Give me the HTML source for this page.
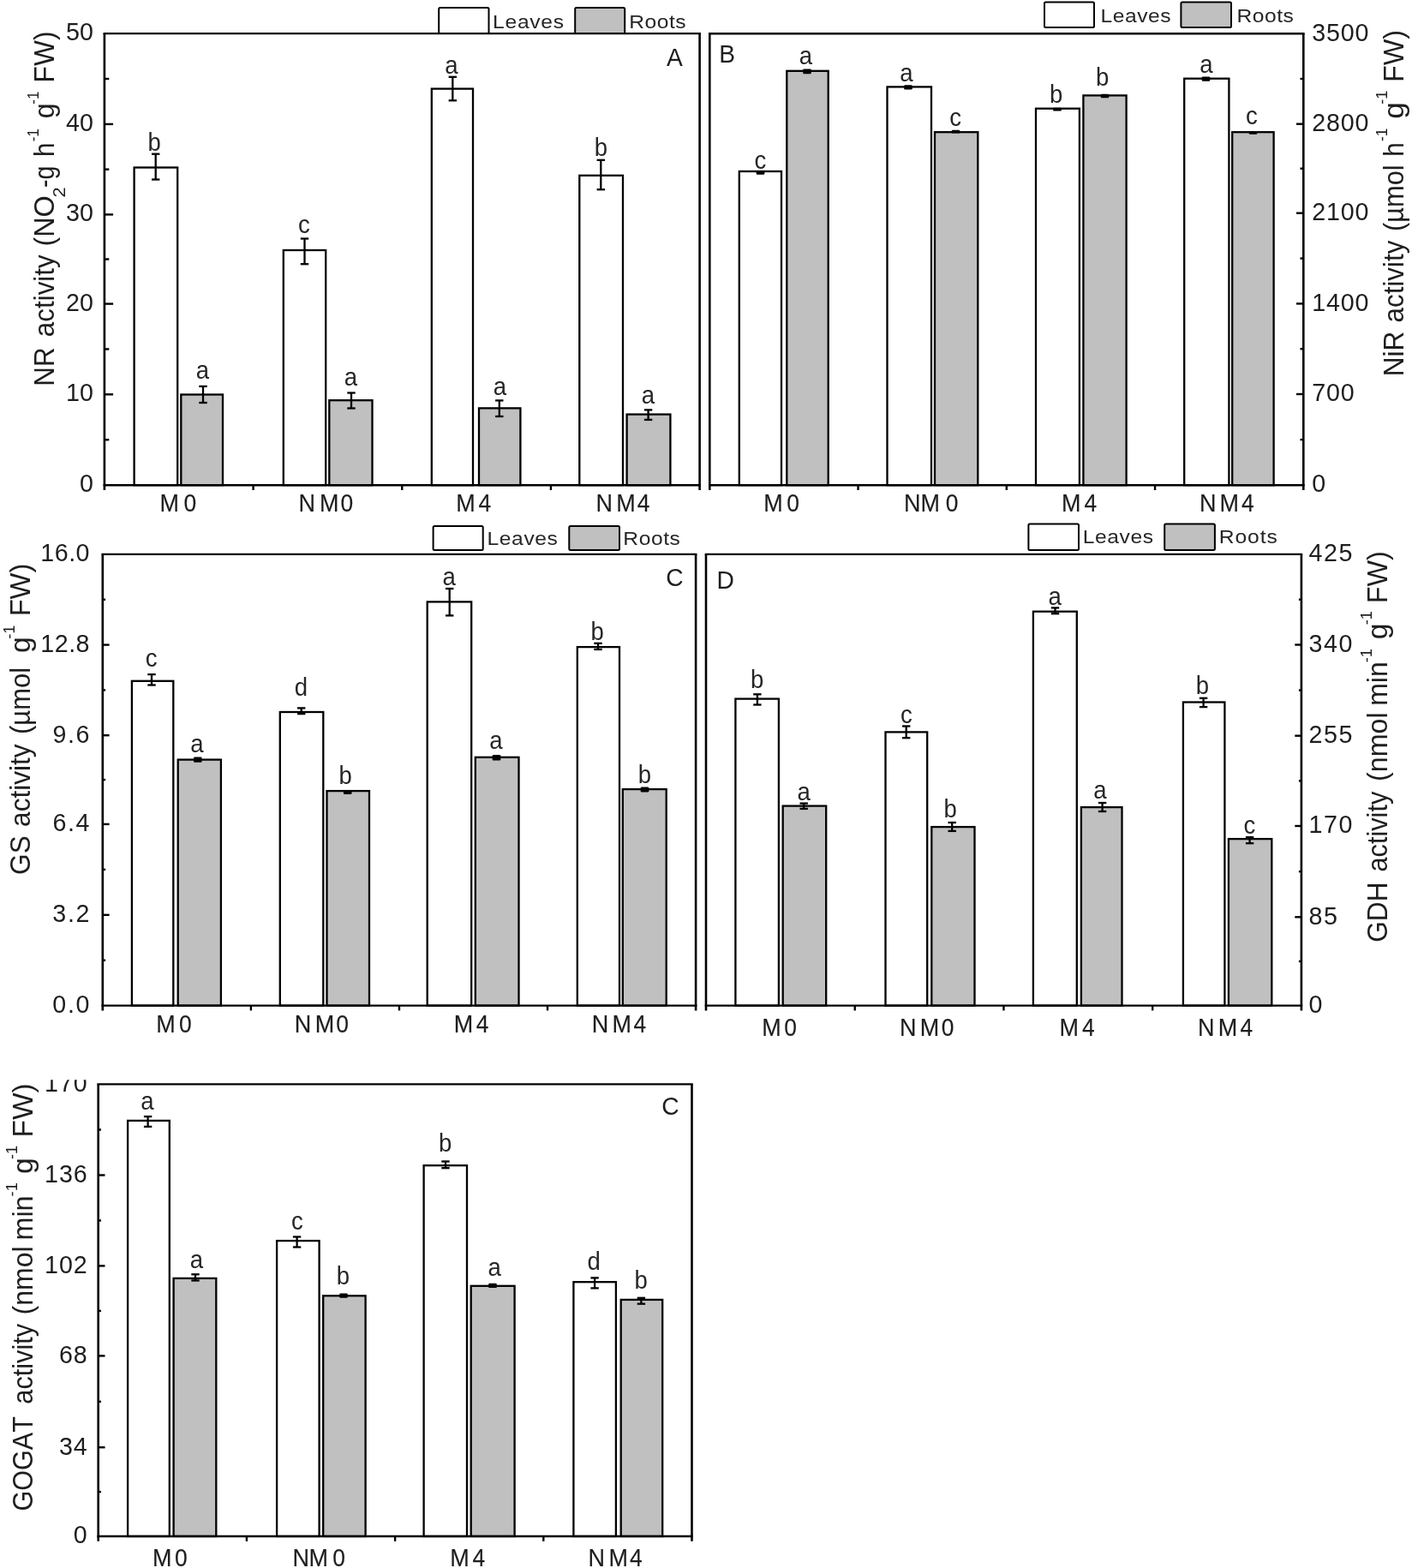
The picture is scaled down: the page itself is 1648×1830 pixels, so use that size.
<!DOCTYPE html>
<html lang="en">
<head>
<meta charset="utf-8">
<title>Enzyme activity in leaves and roots</title>
<style>
html,body{margin:0;padding:0;background:#fff;}
body{width:1648px;height:1830px;overflow:hidden;}
svg{display:block;}
svg text{white-space:pre;font-kerning:none;}
svg .xlab text{stroke:#111;stroke-width:0.15px;}
svg text.sg,svg text.lg{fill:#262626;}
</style>
</head>
<body>
<svg width="1648" height="1830" viewBox="0 0 1648 1830" font-family='"Liberation Sans", Arial, sans-serif' fill="#1e1e1e" role="img" aria-label="Enzyme activities in leaves and roots">
<defs><clipPath id="clipE"><rect x="0" y="1260.3" width="200" height="40"/></clipPath></defs>
<rect x="0" y="0" width="1648" height="1830" fill="#fff"/>
<g id="panel-A">
<rect x="156.60" y="195.50" width="50.60" height="370.70" fill="#fff" stroke="#000" stroke-width="2.3"/>
<rect x="211.30" y="460.50" width="48.70" height="105.70" fill="#c0c0c0" stroke="#000" stroke-width="2.3"/>
<rect x="330.80" y="292.00" width="49.40" height="274.20" fill="#fff" stroke="#000" stroke-width="2.3"/>
<rect x="384.30" y="467.20" width="50.20" height="99.00" fill="#c0c0c0" stroke="#000" stroke-width="2.3"/>
<rect x="503.80" y="103.60" width="48.20" height="462.60" fill="#fff" stroke="#000" stroke-width="2.3"/>
<rect x="559.00" y="476.40" width="48.40" height="89.80" fill="#c0c0c0" stroke="#000" stroke-width="2.3"/>
<rect x="676.30" y="204.80" width="50.70" height="361.40" fill="#fff" stroke="#000" stroke-width="2.3"/>
<rect x="731.60" y="483.60" width="50.80" height="82.60" fill="#c0c0c0" stroke="#000" stroke-width="2.3"/>
<line x1="181.70" y1="179.70" x2="181.70" y2="209.50" stroke="#000" stroke-width="2.3"/>
<line x1="177.00" y1="179.70" x2="186.40" y2="179.70" stroke="#000" stroke-width="2.3"/>
<line x1="177.00" y1="209.50" x2="186.40" y2="209.50" stroke="#000" stroke-width="2.3"/>
<line x1="237.00" y1="450.90" x2="237.00" y2="470.00" stroke="#000" stroke-width="2.3"/>
<line x1="232.30" y1="450.90" x2="241.70" y2="450.90" stroke="#000" stroke-width="2.3"/>
<line x1="232.30" y1="470.00" x2="241.70" y2="470.00" stroke="#000" stroke-width="2.3"/>
<line x1="355.50" y1="278.50" x2="355.50" y2="308.20" stroke="#000" stroke-width="2.3"/>
<line x1="350.80" y1="278.50" x2="360.20" y2="278.50" stroke="#000" stroke-width="2.3"/>
<line x1="350.80" y1="308.20" x2="360.20" y2="308.20" stroke="#000" stroke-width="2.3"/>
<line x1="410.00" y1="458.50" x2="410.00" y2="476.50" stroke="#000" stroke-width="2.3"/>
<line x1="405.30" y1="458.50" x2="414.70" y2="458.50" stroke="#000" stroke-width="2.3"/>
<line x1="405.30" y1="476.50" x2="414.70" y2="476.50" stroke="#000" stroke-width="2.3"/>
<line x1="528.30" y1="89.80" x2="528.30" y2="117.30" stroke="#000" stroke-width="2.3"/>
<line x1="523.60" y1="89.80" x2="533.00" y2="89.80" stroke="#000" stroke-width="2.3"/>
<line x1="523.60" y1="117.30" x2="533.00" y2="117.30" stroke="#000" stroke-width="2.3"/>
<line x1="582.80" y1="467.40" x2="582.80" y2="486.00" stroke="#000" stroke-width="2.3"/>
<line x1="578.10" y1="467.40" x2="587.50" y2="467.40" stroke="#000" stroke-width="2.3"/>
<line x1="578.10" y1="486.00" x2="587.50" y2="486.00" stroke="#000" stroke-width="2.3"/>
<line x1="701.30" y1="186.80" x2="701.30" y2="221.20" stroke="#000" stroke-width="2.3"/>
<line x1="696.60" y1="186.80" x2="706.00" y2="186.80" stroke="#000" stroke-width="2.3"/>
<line x1="696.60" y1="221.20" x2="706.00" y2="221.20" stroke="#000" stroke-width="2.3"/>
<line x1="756.60" y1="478.40" x2="756.60" y2="489.90" stroke="#000" stroke-width="2.3"/>
<line x1="751.90" y1="478.40" x2="761.30" y2="478.40" stroke="#000" stroke-width="2.3"/>
<line x1="751.90" y1="489.90" x2="761.30" y2="489.90" stroke="#000" stroke-width="2.3"/>
<line x1="120.60" y1="39.10" x2="817.90" y2="39.10" stroke="#000" stroke-width="2.4"/>
<line x1="121.90" y1="39.10" x2="121.90" y2="572.00" stroke="#000" stroke-width="2.6"/>
<line x1="816.60" y1="39.10" x2="816.60" y2="572.00" stroke="#000" stroke-width="2.6"/>
<line x1="120.60" y1="566.20" x2="817.90" y2="566.20" stroke="#000" stroke-width="2.4"/>
<line x1="295.58" y1="566.20" x2="295.58" y2="572.00" stroke="#000" stroke-width="2.4"/>
<line x1="469.25" y1="566.20" x2="469.25" y2="572.00" stroke="#000" stroke-width="2.4"/>
<line x1="642.93" y1="566.20" x2="642.93" y2="572.00" stroke="#000" stroke-width="2.4"/>
<line x1="121.90" y1="92.00" x2="127.30" y2="92.00" stroke="#000" stroke-width="2.4"/>
<text class="tk" transform="translate(108.90,47.00) scale(0.955,1)" x="0" y="0" font-size="30" text-anchor="end">50</text>
<line x1="121.90" y1="144.90" x2="132.10" y2="144.90" stroke="#000" stroke-width="2.4"/>
<line x1="121.90" y1="197.65" x2="127.30" y2="197.65" stroke="#000" stroke-width="2.4"/>
<text class="tk" transform="translate(108.90,152.80) scale(0.955,1)" x="0" y="0" font-size="30" text-anchor="end">40</text>
<line x1="121.90" y1="250.40" x2="132.10" y2="250.40" stroke="#000" stroke-width="2.4"/>
<line x1="121.90" y1="302.50" x2="127.30" y2="302.50" stroke="#000" stroke-width="2.4"/>
<text class="tk" transform="translate(108.90,258.30) scale(0.955,1)" x="0" y="0" font-size="30" text-anchor="end">30</text>
<line x1="121.90" y1="354.60" x2="132.10" y2="354.60" stroke="#000" stroke-width="2.4"/>
<line x1="121.90" y1="407.45" x2="127.30" y2="407.45" stroke="#000" stroke-width="2.4"/>
<text class="tk" transform="translate(108.90,362.50) scale(0.955,1)" x="0" y="0" font-size="30" text-anchor="end">20</text>
<line x1="121.90" y1="460.30" x2="132.10" y2="460.30" stroke="#000" stroke-width="2.4"/>
<line x1="121.90" y1="513.25" x2="127.30" y2="513.25" stroke="#000" stroke-width="2.4"/>
<text class="tk" transform="translate(108.90,468.20) scale(0.955,1)" x="0" y="0" font-size="30" text-anchor="end">10</text>
<text class="tk" transform="translate(108.90,574.10) scale(0.955,1)" x="0" y="0" font-size="30" text-anchor="end">0</text>
<text class="sg" transform="translate(172.53,176.30) scale(0.95,1)" x="0" y="0" font-size="29" text-anchor="start">b</text>
<text class="sg" transform="translate(228.75,442.20) scale(0.95,1)" x="0" y="0" font-size="29" text-anchor="start">a</text>
<text class="sg" transform="translate(347.89,272.40) scale(0.95,1)" x="0" y="0" font-size="29" text-anchor="start">c</text>
<text class="sg" transform="translate(401.75,450.00) scale(0.95,1)" x="0" y="0" font-size="29" text-anchor="start">a</text>
<text class="sg" transform="translate(519.25,86.20) scale(0.95,1)" x="0" y="0" font-size="29" text-anchor="start">a</text>
<text class="sg" transform="translate(575.75,461.40) scale(0.95,1)" x="0" y="0" font-size="29" text-anchor="start">a</text>
<text class="sg" transform="translate(693.83,182.40) scale(0.95,1)" x="0" y="0" font-size="29" text-anchor="start">b</text>
<text class="sg" transform="translate(748.75,470.50) scale(0.95,1)" x="0" y="0" font-size="29" text-anchor="start">a</text>
<text class="pl" transform="translate(787.50,77.00) scale(0.94,1)" x="0" y="0" font-size="30" text-anchor="middle">A</text>
<g class="xlab">
<text transform="translate(186.59,597.20) scale(0.9,1)" x="0.00" y="0" font-size="30">M</text>
<text transform="translate(214.47,597.20) scale(0.88,1)" x="-8.33 0" y="0" font-size="30"> 0</text>
</g>
<g class="xlab">
<text transform="translate(348.59,597.20) scale(0.9,1)" x="0.00 27.11" y="0" font-size="30">NM</text>
<text transform="translate(397.57,597.20) scale(0.88,1)" x="-8.33 0" y="0" font-size="30"> 0</text>
</g>
<g class="xlab">
<text transform="translate(532.29,597.20) scale(0.9,1)" x="0.00" y="0" font-size="30">M</text>
<text transform="translate(558.59,597.20) scale(0.88,1)" x="-8.33 0" y="0" font-size="30"> 4</text>
</g>
<g class="xlab">
<text transform="translate(695.39,597.20) scale(0.9,1)" x="0.00 26.44" y="0" font-size="30">NM</text>
<text transform="translate(743.69,597.20) scale(0.88,1)" x="-8.33 0" y="0" font-size="30"> 4</text>
</g>
<rect x="512.20" y="9.00" width="58.30" height="30.10" rx="1.5" fill="#fff" stroke="#000" stroke-width="2.0"/>
<rect x="671.20" y="9.00" width="58.00" height="30.10" rx="1.5" fill="#c0c0c0" stroke="#000" stroke-width="2.0"/>
<text class="lg" transform="translate(575.08,33.00) scale(1.12,1)" x="0" y="0" font-size="22" letter-spacing="0.635">Leaves</text>
<text class="lg" transform="translate(734.28,33.00) scale(1.12,1)" x="0" y="0" font-size="22" letter-spacing="0.456">Roots</text>
<g class="ytitle">
<text transform="translate(63.30,448.20) rotate(-90)" x="-2.57" y="0" font-size="33" textLength="45.33" lengthAdjust="spacingAndGlyphs">NR</text>
<text transform="translate(63.30,391.80) rotate(-90)" x="-1.33" y="0" font-size="33" textLength="95.79" lengthAdjust="spacingAndGlyphs">activity</text>
<text transform="translate(63.30,285.60) rotate(-90)" x="-2.01" y="0" font-size="33" textLength="59.36" lengthAdjust="spacingAndGlyphs">(NO</text>
<text transform="translate(76.30,229.30) rotate(-90)" x="-1.10" y="0" font-size="19.5" textLength="12.21" lengthAdjust="spacingAndGlyphs">2</text>
<text transform="translate(63.30,217.70) rotate(-90)" x="-1.27" y="0" font-size="33" textLength="25.41" lengthAdjust="spacingAndGlyphs">-g</text>
<text transform="translate(63.30,181.00) rotate(-90)" x="-2.05" y="0" font-size="33" textLength="16.48" lengthAdjust="spacingAndGlyphs">h</text>
<text transform="translate(44.80,164.60) rotate(-90)" x="-0.76" y="0" font-size="18.5" textLength="15.19" lengthAdjust="spacingAndGlyphs">-1</text>
<text transform="translate(63.30,137.00) rotate(-90)" x="-1.34" y="0" font-size="33" textLength="17.81" lengthAdjust="spacingAndGlyphs">g</text>
<text transform="translate(44.80,121.00) rotate(-90)" x="-0.75" y="0" font-size="18.5" textLength="15.08" lengthAdjust="spacingAndGlyphs">-1</text>
<text transform="translate(63.30,93.80) rotate(-90)" x="-2.60" y="0" font-size="33" textLength="59.87" lengthAdjust="spacingAndGlyphs">FW)</text>
</g>
</g>
<g id="panel-B">
<rect x="862.80" y="200.00" width="49.20" height="366.20" fill="#fff" stroke="#000" stroke-width="2.3"/>
<rect x="918.30" y="82.80" width="48.40" height="483.40" fill="#c0c0c0" stroke="#000" stroke-width="2.3"/>
<rect x="1035.50" y="101.40" width="51.50" height="464.80" fill="#fff" stroke="#000" stroke-width="2.3"/>
<rect x="1091.00" y="154.20" width="50.30" height="412.00" fill="#c0c0c0" stroke="#000" stroke-width="2.3"/>
<rect x="1209.00" y="126.70" width="50.90" height="439.50" fill="#fff" stroke="#000" stroke-width="2.3"/>
<rect x="1264.40" y="111.40" width="50.20" height="454.80" fill="#c0c0c0" stroke="#000" stroke-width="2.3"/>
<rect x="1382.20" y="91.70" width="52.20" height="474.50" fill="#fff" stroke="#000" stroke-width="2.3"/>
<rect x="1438.20" y="154.20" width="48.40" height="412.00" fill="#c0c0c0" stroke="#000" stroke-width="2.3"/>
<rect x="882.70" y="200.00" width="9.60" height="3.80" rx="1.2" fill="#000"/>
<rect x="937.20" y="80.40" width="9.60" height="5.80" rx="1.2" fill="#000"/>
<rect x="1055.20" y="99.20" width="9.60" height="5.20" rx="1.2" fill="#000"/>
<rect x="1110.70" y="151.80" width="9.60" height="3.80" rx="1.2" fill="#000"/>
<rect x="1229.20" y="125.80" width="9.60" height="3.80" rx="1.2" fill="#000"/>
<rect x="1284.70" y="109.80" width="9.60" height="4.40" rx="1.2" fill="#000"/>
<rect x="1402.70" y="89.40" width="9.60" height="5.40" rx="1.2" fill="#000"/>
<rect x="1457.70" y="152.90" width="9.60" height="3.80" rx="1.2" fill="#000"/>
<line x1="827.00" y1="39.30" x2="1522.60" y2="39.30" stroke="#000" stroke-width="2.4"/>
<line x1="828.30" y1="39.30" x2="828.30" y2="572.00" stroke="#000" stroke-width="2.6"/>
<line x1="1521.30" y1="39.30" x2="1521.30" y2="572.00" stroke="#000" stroke-width="2.6"/>
<line x1="827.00" y1="566.20" x2="1522.60" y2="566.20" stroke="#000" stroke-width="2.4"/>
<line x1="1001.55" y1="566.20" x2="1001.55" y2="572.00" stroke="#000" stroke-width="2.4"/>
<line x1="1174.80" y1="566.20" x2="1174.80" y2="572.00" stroke="#000" stroke-width="2.4"/>
<line x1="1348.05" y1="566.20" x2="1348.05" y2="572.00" stroke="#000" stroke-width="2.4"/>
<line x1="1521.30" y1="92.00" x2="1517.50" y2="92.00" stroke="#000" stroke-width="2.4"/>
<text class="tk" transform="translate(1531.20,47.50) scale(0.955,1)" x="0" y="0" font-size="30" text-anchor="start" letter-spacing="0.9">3500</text>
<line x1="1521.30" y1="144.70" x2="1513.00" y2="144.70" stroke="#000" stroke-width="2.4"/>
<line x1="1521.30" y1="196.70" x2="1517.50" y2="196.70" stroke="#000" stroke-width="2.4"/>
<text class="tk" transform="translate(1531.20,152.90) scale(0.955,1)" x="0" y="0" font-size="30" text-anchor="start" letter-spacing="0.9">2800</text>
<line x1="1521.30" y1="248.70" x2="1513.00" y2="248.70" stroke="#000" stroke-width="2.4"/>
<line x1="1521.30" y1="301.55" x2="1517.50" y2="301.55" stroke="#000" stroke-width="2.4"/>
<text class="tk" transform="translate(1531.20,256.90) scale(0.955,1)" x="0" y="0" font-size="30" text-anchor="start" letter-spacing="0.9">2100</text>
<line x1="1521.30" y1="354.40" x2="1513.00" y2="354.40" stroke="#000" stroke-width="2.4"/>
<line x1="1521.30" y1="407.20" x2="1517.50" y2="407.20" stroke="#000" stroke-width="2.4"/>
<text class="tk" transform="translate(1531.20,362.60) scale(0.955,1)" x="0" y="0" font-size="30" text-anchor="start" letter-spacing="0.9">1400</text>
<line x1="1521.30" y1="460.00" x2="1513.00" y2="460.00" stroke="#000" stroke-width="2.4"/>
<line x1="1521.30" y1="513.10" x2="1517.50" y2="513.10" stroke="#000" stroke-width="2.4"/>
<text class="tk" transform="translate(1531.20,468.20) scale(0.955,1)" x="0" y="0" font-size="30" text-anchor="start" letter-spacing="0.9">700</text>
<text class="tk" transform="translate(1531.20,574.40) scale(0.955,1)" x="0" y="0" font-size="30" text-anchor="start" letter-spacing="0.9">0</text>
<text class="sg" transform="translate(880.59,197.20) scale(0.95,1)" x="0" y="0" font-size="29" text-anchor="start">c</text>
<text class="sg" transform="translate(932.75,74.90) scale(0.95,1)" x="0" y="0" font-size="29" text-anchor="start">a</text>
<text class="sg" transform="translate(1050.25,94.80) scale(0.95,1)" x="0" y="0" font-size="29" text-anchor="start">a</text>
<text class="sg" transform="translate(1108.19,146.80) scale(0.95,1)" x="0" y="0" font-size="29" text-anchor="start">c</text>
<text class="sg" transform="translate(1225.03,120.00) scale(0.95,1)" x="0" y="0" font-size="29" text-anchor="start">b</text>
<text class="sg" transform="translate(1279.03,99.90) scale(0.95,1)" x="0" y="0" font-size="29" text-anchor="start">b</text>
<text class="sg" transform="translate(1400.15,85.10) scale(0.95,1)" x="0" y="0" font-size="29" text-anchor="start">a</text>
<text class="sg" transform="translate(1453.89,145.00) scale(0.95,1)" x="0" y="0" font-size="29" text-anchor="start">c</text>
<text class="pl" transform="translate(848.60,72.60) scale(0.94,1)" x="0" y="0" font-size="30" text-anchor="middle">B</text>
<g class="xlab">
<text transform="translate(891.29,597.20) scale(0.9,1)" x="0.00" y="0" font-size="30">M</text>
<text transform="translate(918.17,597.20) scale(0.88,1)" x="-8.33 0" y="0" font-size="30"> 0</text>
</g>
<g class="xlab">
<text transform="translate(1054.99,597.20) scale(0.9,1)" x="0.00 21.67" y="0" font-size="30">NM</text>
<text transform="translate(1103.77,597.20) scale(0.88,1)" x="-8.33 0" y="0" font-size="30"> 0</text>
</g>
<g class="xlab">
<text transform="translate(1239.09,597.20) scale(0.9,1)" x="0.00" y="0" font-size="30">M</text>
<text transform="translate(1265.39,597.20) scale(0.88,1)" x="-8.33 0" y="0" font-size="30"> 4</text>
</g>
<g class="xlab">
<text transform="translate(1400.09,597.20) scale(0.9,1)" x="0.00 26.00" y="0" font-size="30">NM</text>
<text transform="translate(1449.09,597.20) scale(0.88,1)" x="-8.33 0" y="0" font-size="30"> 4</text>
</g>
<rect x="1219.00" y="2.50" width="58.00" height="29.50" rx="1.5" fill="#fff" stroke="#000" stroke-width="2.0"/>
<rect x="1378.40" y="2.50" width="58.60" height="29.50" rx="1.5" fill="#c0c0c0" stroke="#000" stroke-width="2.0"/>
<text class="lg" transform="translate(1284.58,26.00) scale(1.12,1)" x="0" y="0" font-size="22" letter-spacing="0.439">Leaves</text>
<text class="lg" transform="translate(1443.38,26.00) scale(1.12,1)" x="0" y="0" font-size="22" letter-spacing="0.479">Roots</text>
<g class="ytitle">
<text transform="translate(1637.50,436.70) rotate(-90)" x="-2.59" y="0" font-size="33" textLength="52.55" lengthAdjust="spacingAndGlyphs">NiR</text>
<text transform="translate(1637.50,375.10) rotate(-90)" x="-1.33" y="0" font-size="33" textLength="95.79" lengthAdjust="spacingAndGlyphs">activity</text>
<text transform="translate(1637.50,268.20) rotate(-90)" x="-1.91" y="0" font-size="33" textLength="77.78" lengthAdjust="spacingAndGlyphs">(µmol</text>
<text transform="translate(1637.50,180.70) rotate(-90)" x="-2.05" y="0" font-size="33" textLength="16.48" lengthAdjust="spacingAndGlyphs">h</text>
<text transform="translate(1619.00,164.30) rotate(-90)" x="-0.77" y="0" font-size="18.5" textLength="15.42" lengthAdjust="spacingAndGlyphs">-1</text>
<text transform="translate(1637.50,137.40) rotate(-90)" x="-1.48" y="0" font-size="33" textLength="19.54" lengthAdjust="spacingAndGlyphs">g</text>
<text transform="translate(1619.00,121.00) rotate(-90)" x="-0.80" y="0" font-size="18.5" textLength="16.09" lengthAdjust="spacingAndGlyphs">-1</text>
<text transform="translate(1637.50,93.40) rotate(-90)" x="-2.65" y="0" font-size="33" textLength="61.06" lengthAdjust="spacingAndGlyphs">FW)</text>
</g>
</g>
<g id="panel-C">
<rect x="153.90" y="794.80" width="48.40" height="378.80" fill="#fff" stroke="#000" stroke-width="2.3"/>
<rect x="207.70" y="886.60" width="50.20" height="287.00" fill="#c0c0c0" stroke="#000" stroke-width="2.3"/>
<rect x="326.80" y="831.00" width="50.50" height="342.60" fill="#fff" stroke="#000" stroke-width="2.3"/>
<rect x="381.50" y="923.10" width="49.50" height="250.50" fill="#c0c0c0" stroke="#000" stroke-width="2.3"/>
<rect x="498.70" y="702.40" width="51.50" height="471.20" fill="#fff" stroke="#000" stroke-width="2.3"/>
<rect x="554.80" y="883.80" width="50.70" height="289.80" fill="#c0c0c0" stroke="#000" stroke-width="2.3"/>
<rect x="673.80" y="755.10" width="49.20" height="418.50" fill="#fff" stroke="#000" stroke-width="2.3"/>
<rect x="726.80" y="921.10" width="50.90" height="252.50" fill="#c0c0c0" stroke="#000" stroke-width="2.3"/>
<line x1="177.00" y1="787.10" x2="177.00" y2="799.50" stroke="#000" stroke-width="2.3"/>
<line x1="172.30" y1="787.10" x2="181.70" y2="787.10" stroke="#000" stroke-width="2.3"/>
<line x1="172.30" y1="799.50" x2="181.70" y2="799.50" stroke="#000" stroke-width="2.3"/>
<rect x="226.00" y="883.50" width="9.60" height="6.30" rx="1.2" fill="#000"/>
<line x1="351.70" y1="826.40" x2="351.70" y2="833.10" stroke="#000" stroke-width="2.3"/>
<line x1="347.00" y1="826.40" x2="356.40" y2="826.40" stroke="#000" stroke-width="2.3"/>
<line x1="347.00" y1="833.10" x2="356.40" y2="833.10" stroke="#000" stroke-width="2.3"/>
<rect x="400.90" y="923.20" width="9.60" height="3.80" rx="1.2" fill="#000"/>
<line x1="524.70" y1="687.00" x2="524.70" y2="718.40" stroke="#000" stroke-width="2.3"/>
<line x1="520.00" y1="687.00" x2="529.40" y2="687.00" stroke="#000" stroke-width="2.3"/>
<line x1="520.00" y1="718.40" x2="529.40" y2="718.40" stroke="#000" stroke-width="2.3"/>
<rect x="574.70" y="881.00" width="9.60" height="6.40" rx="1.2" fill="#000"/>
<line x1="698.00" y1="750.80" x2="698.00" y2="757.90" stroke="#000" stroke-width="2.3"/>
<line x1="693.30" y1="750.80" x2="702.70" y2="750.80" stroke="#000" stroke-width="2.3"/>
<line x1="693.30" y1="757.90" x2="702.70" y2="757.90" stroke="#000" stroke-width="2.3"/>
<rect x="747.70" y="918.60" width="9.60" height="5.80" rx="1.2" fill="#000"/>
<line x1="118.50" y1="646.90" x2="813.40" y2="646.90" stroke="#000" stroke-width="2.4"/>
<line x1="119.80" y1="646.90" x2="119.80" y2="1179.40" stroke="#000" stroke-width="2.6"/>
<line x1="812.10" y1="646.90" x2="812.10" y2="1179.40" stroke="#000" stroke-width="2.6"/>
<line x1="118.50" y1="1173.60" x2="813.40" y2="1173.60" stroke="#000" stroke-width="2.4"/>
<line x1="292.88" y1="1173.60" x2="292.88" y2="1179.40" stroke="#000" stroke-width="2.4"/>
<line x1="465.95" y1="1173.60" x2="465.95" y2="1179.40" stroke="#000" stroke-width="2.4"/>
<line x1="639.02" y1="1173.60" x2="639.02" y2="1179.40" stroke="#000" stroke-width="2.4"/>
<line x1="119.80" y1="699.75" x2="123.10" y2="699.75" stroke="#000" stroke-width="2.4"/>
<text class="tk" transform="translate(104.98,655.20) scale(0.955,1)" x="0" y="0" font-size="30" text-anchor="end" letter-spacing="0.5">16.0</text>
<line x1="119.80" y1="752.60" x2="127.60" y2="752.60" stroke="#000" stroke-width="2.4"/>
<line x1="119.80" y1="805.40" x2="123.10" y2="805.40" stroke="#000" stroke-width="2.4"/>
<text class="tk" transform="translate(104.98,760.90) scale(0.955,1)" x="0" y="0" font-size="30" text-anchor="end" letter-spacing="0.5">12.8</text>
<line x1="119.80" y1="858.20" x2="127.60" y2="858.20" stroke="#000" stroke-width="2.4"/>
<line x1="119.80" y1="910.05" x2="123.10" y2="910.05" stroke="#000" stroke-width="2.4"/>
<text class="tk" transform="translate(106.03,866.50) scale(0.955,1)" x="0" y="0" font-size="30" text-anchor="end" letter-spacing="1.6">9.6</text>
<line x1="119.80" y1="961.90" x2="127.60" y2="961.90" stroke="#000" stroke-width="2.4"/>
<line x1="119.80" y1="1014.85" x2="123.10" y2="1014.85" stroke="#000" stroke-width="2.4"/>
<text class="tk" transform="translate(106.03,970.20) scale(0.955,1)" x="0" y="0" font-size="30" text-anchor="end" letter-spacing="1.6">6.4</text>
<line x1="119.80" y1="1067.80" x2="127.60" y2="1067.80" stroke="#000" stroke-width="2.4"/>
<line x1="119.80" y1="1120.70" x2="123.10" y2="1120.70" stroke="#000" stroke-width="2.4"/>
<text class="tk" transform="translate(106.22,1076.10) scale(0.955,1)" x="0" y="0" font-size="30" text-anchor="end" letter-spacing="1.8">3.2</text>
<text class="tk" transform="translate(106.22,1181.90) scale(0.955,1)" x="0" y="0" font-size="30" text-anchor="end" letter-spacing="1.8">0.0</text>
<text class="sg" transform="translate(169.79,777.60) scale(0.95,1)" x="0" y="0" font-size="29" text-anchor="start">c</text>
<text class="sg" transform="translate(222.35,878.40) scale(0.95,1)" x="0" y="0" font-size="29" text-anchor="start">a</text>
<text class="sg" transform="translate(343.65,811.60) scale(0.95,1)" x="0" y="0" font-size="29" text-anchor="start">d</text>
<text class="sg" transform="translate(395.53,915.40) scale(0.95,1)" x="0" y="0" font-size="29" text-anchor="start">b</text>
<text class="sg" transform="translate(516.45,682.90) scale(0.95,1)" x="0" y="0" font-size="29" text-anchor="start">a</text>
<text class="sg" transform="translate(571.25,874.10) scale(0.95,1)" x="0" y="0" font-size="29" text-anchor="start">a</text>
<text class="sg" transform="translate(689.53,747.20) scale(0.95,1)" x="0" y="0" font-size="29" text-anchor="start">b</text>
<text class="sg" transform="translate(744.83,913.90) scale(0.95,1)" x="0" y="0" font-size="29" text-anchor="start">b</text>
<text class="pl" transform="translate(787.50,683.60) scale(0.94,1)" x="0" y="0" font-size="30" text-anchor="middle">C</text>
<g class="xlab">
<text transform="translate(182.29,1204.80) scale(0.9,1)" x="0.00" y="0" font-size="30">M</text>
<text transform="translate(208.97,1204.80) scale(0.88,1)" x="-8.33 0" y="0" font-size="30"> 0</text>
</g>
<g class="xlab">
<text transform="translate(343.69,1204.80) scale(0.9,1)" x="0.00 26.67" y="0" font-size="30">NM</text>
<text transform="translate(392.27,1204.80) scale(0.88,1)" x="-8.33 0" y="0" font-size="30"> 0</text>
</g>
<g class="xlab">
<text transform="translate(529.79,1204.80) scale(0.9,1)" x="0.00" y="0" font-size="30">M</text>
<text transform="translate(555.79,1204.80) scale(0.88,1)" x="-8.33 0" y="0" font-size="30"> 4</text>
</g>
<g class="xlab">
<text transform="translate(690.79,1204.80) scale(0.9,1)" x="0.00 26.33" y="0" font-size="30">NM</text>
<text transform="translate(739.49,1204.80) scale(0.88,1)" x="-8.33 0" y="0" font-size="30"> 4</text>
</g>
<rect x="505.60" y="614.00" width="58.10" height="28.00" rx="1.5" fill="#fff" stroke="#000" stroke-width="2.0"/>
<rect x="664.30" y="614.00" width="58.70" height="28.00" rx="1.5" fill="#c0c0c0" stroke="#000" stroke-width="2.0"/>
<text class="lg" transform="translate(568.58,636.20) scale(1.12,1)" x="0" y="0" font-size="22" letter-spacing="0.510">Leaves</text>
<text class="lg" transform="translate(727.28,636.20) scale(1.12,1)" x="0" y="0" font-size="22" letter-spacing="0.501">Roots</text>
<g class="ytitle">
<text transform="translate(35.40,1019.30) rotate(-90)" x="-1.59" y="0" font-size="33" textLength="45.64" lengthAdjust="spacingAndGlyphs">GS</text>
<text transform="translate(35.40,963.60) rotate(-90)" x="-1.34" y="0" font-size="33" textLength="96.60" lengthAdjust="spacingAndGlyphs">activity</text>
<text transform="translate(35.40,855.10) rotate(-90)" x="-1.92" y="0" font-size="33" textLength="78.09" lengthAdjust="spacingAndGlyphs">(µmol</text>
<text transform="translate(35.40,760.70) rotate(-90)" x="-1.41" y="0" font-size="33" textLength="18.67" lengthAdjust="spacingAndGlyphs">g</text>
<text transform="translate(16.90,745.00) rotate(-90)" x="-0.81" y="0" font-size="18.5" textLength="16.20" lengthAdjust="spacingAndGlyphs">-1</text>
<text transform="translate(35.40,716.70) rotate(-90)" x="-2.68" y="0" font-size="33" textLength="61.71" lengthAdjust="spacingAndGlyphs">FW)</text>
</g>
</g>
<g id="panel-D">
<rect x="858.40" y="815.60" width="50.50" height="358.00" fill="#fff" stroke="#000" stroke-width="2.3"/>
<rect x="913.70" y="940.60" width="50.50" height="233.00" fill="#c0c0c0" stroke="#000" stroke-width="2.3"/>
<rect x="1033.50" y="854.40" width="48.70" height="319.20" fill="#fff" stroke="#000" stroke-width="2.3"/>
<rect x="1087.30" y="965.10" width="50.20" height="208.50" fill="#c0c0c0" stroke="#000" stroke-width="2.3"/>
<rect x="1205.90" y="713.70" width="50.90" height="459.90" fill="#fff" stroke="#000" stroke-width="2.3"/>
<rect x="1261.90" y="942.10" width="47.60" height="231.50" fill="#c0c0c0" stroke="#000" stroke-width="2.3"/>
<rect x="1380.90" y="819.50" width="48.50" height="354.10" fill="#fff" stroke="#000" stroke-width="2.3"/>
<rect x="1433.90" y="979.10" width="50.40" height="194.50" fill="#c0c0c0" stroke="#000" stroke-width="2.3"/>
<line x1="883.90" y1="810.30" x2="883.90" y2="822.50" stroke="#000" stroke-width="2.3"/>
<line x1="879.20" y1="810.30" x2="888.60" y2="810.30" stroke="#000" stroke-width="2.3"/>
<line x1="879.20" y1="822.50" x2="888.60" y2="822.50" stroke="#000" stroke-width="2.3"/>
<line x1="938.20" y1="937.60" x2="938.20" y2="943.90" stroke="#000" stroke-width="2.3"/>
<line x1="933.50" y1="937.60" x2="942.90" y2="937.60" stroke="#000" stroke-width="2.3"/>
<line x1="933.50" y1="943.90" x2="942.90" y2="943.90" stroke="#000" stroke-width="2.3"/>
<line x1="1057.70" y1="847.50" x2="1057.70" y2="861.20" stroke="#000" stroke-width="2.3"/>
<line x1="1053.00" y1="847.50" x2="1062.40" y2="847.50" stroke="#000" stroke-width="2.3"/>
<line x1="1053.00" y1="861.20" x2="1062.40" y2="861.20" stroke="#000" stroke-width="2.3"/>
<line x1="1111.20" y1="960.00" x2="1111.20" y2="969.90" stroke="#000" stroke-width="2.3"/>
<line x1="1106.50" y1="960.00" x2="1115.90" y2="960.00" stroke="#000" stroke-width="2.3"/>
<line x1="1106.50" y1="969.90" x2="1115.90" y2="969.90" stroke="#000" stroke-width="2.3"/>
<line x1="1231.50" y1="709.40" x2="1231.50" y2="716.20" stroke="#000" stroke-width="2.3"/>
<line x1="1226.80" y1="709.40" x2="1236.20" y2="709.40" stroke="#000" stroke-width="2.3"/>
<line x1="1226.80" y1="716.20" x2="1236.20" y2="716.20" stroke="#000" stroke-width="2.3"/>
<line x1="1286.60" y1="937.00" x2="1286.60" y2="947.00" stroke="#000" stroke-width="2.3"/>
<line x1="1281.90" y1="937.00" x2="1291.30" y2="937.00" stroke="#000" stroke-width="2.3"/>
<line x1="1281.90" y1="947.00" x2="1291.30" y2="947.00" stroke="#000" stroke-width="2.3"/>
<line x1="1404.60" y1="814.80" x2="1404.60" y2="825.10" stroke="#000" stroke-width="2.3"/>
<line x1="1399.90" y1="814.80" x2="1409.30" y2="814.80" stroke="#000" stroke-width="2.3"/>
<line x1="1399.90" y1="825.10" x2="1409.30" y2="825.10" stroke="#000" stroke-width="2.3"/>
<line x1="1458.60" y1="977.10" x2="1458.60" y2="984.20" stroke="#000" stroke-width="2.3"/>
<line x1="1453.90" y1="977.10" x2="1463.30" y2="977.10" stroke="#000" stroke-width="2.3"/>
<line x1="1453.90" y1="984.20" x2="1463.30" y2="984.20" stroke="#000" stroke-width="2.3"/>
<line x1="822.70" y1="646.90" x2="1520.20" y2="646.90" stroke="#000" stroke-width="2.4"/>
<line x1="824.00" y1="646.90" x2="824.00" y2="1179.40" stroke="#000" stroke-width="2.6"/>
<line x1="1518.90" y1="646.90" x2="1518.90" y2="1179.40" stroke="#000" stroke-width="2.6"/>
<line x1="822.70" y1="1173.60" x2="1520.20" y2="1173.60" stroke="#000" stroke-width="2.4"/>
<line x1="997.73" y1="1173.60" x2="997.73" y2="1179.40" stroke="#000" stroke-width="2.4"/>
<line x1="1171.45" y1="1173.60" x2="1171.45" y2="1179.40" stroke="#000" stroke-width="2.4"/>
<line x1="1345.18" y1="1173.60" x2="1345.18" y2="1179.40" stroke="#000" stroke-width="2.4"/>
<line x1="1518.90" y1="699.70" x2="1515.90" y2="699.70" stroke="#000" stroke-width="2.4"/>
<text class="tk" transform="translate(1527.60,655.10) scale(0.955,1)" x="0" y="0" font-size="30" text-anchor="start" letter-spacing="1.6">425</text>
<line x1="1518.90" y1="752.50" x2="1511.30" y2="752.50" stroke="#000" stroke-width="2.4"/>
<line x1="1518.90" y1="805.60" x2="1515.90" y2="805.60" stroke="#000" stroke-width="2.4"/>
<text class="tk" transform="translate(1527.60,760.70) scale(0.955,1)" x="0" y="0" font-size="30" text-anchor="start" letter-spacing="1.6">340</text>
<line x1="1518.90" y1="858.70" x2="1511.30" y2="858.70" stroke="#000" stroke-width="2.4"/>
<line x1="1518.90" y1="911.35" x2="1515.90" y2="911.35" stroke="#000" stroke-width="2.4"/>
<text class="tk" transform="translate(1527.60,866.90) scale(0.955,1)" x="0" y="0" font-size="30" text-anchor="start" letter-spacing="1.6">255</text>
<line x1="1518.90" y1="964.00" x2="1511.30" y2="964.00" stroke="#000" stroke-width="2.4"/>
<line x1="1518.90" y1="1017.15" x2="1515.90" y2="1017.15" stroke="#000" stroke-width="2.4"/>
<text class="tk" transform="translate(1527.60,972.20) scale(0.955,1)" x="0" y="0" font-size="30" text-anchor="start" letter-spacing="1.6">170</text>
<line x1="1518.90" y1="1070.30" x2="1511.30" y2="1070.30" stroke="#000" stroke-width="2.4"/>
<line x1="1518.90" y1="1121.95" x2="1515.90" y2="1121.95" stroke="#000" stroke-width="2.4"/>
<text class="tk" transform="translate(1527.60,1078.50) scale(0.955,1)" x="0" y="0" font-size="30" text-anchor="start" letter-spacing="1.6">85</text>
<text class="tk" transform="translate(1527.60,1181.80) scale(0.955,1)" x="0" y="0" font-size="30" text-anchor="start" letter-spacing="1.6">0</text>
<text class="sg" transform="translate(876.03,803.10) scale(0.95,1)" x="0" y="0" font-size="29" text-anchor="start">b</text>
<text class="sg" transform="translate(930.45,933.50) scale(0.95,1)" x="0" y="0" font-size="29" text-anchor="start">a</text>
<text class="sg" transform="translate(1050.89,843.90) scale(0.95,1)" x="0" y="0" font-size="29" text-anchor="start">c</text>
<text class="sg" transform="translate(1101.43,953.80) scale(0.95,1)" x="0" y="0" font-size="29" text-anchor="start">b</text>
<text class="sg" transform="translate(1223.55,706.30) scale(0.95,1)" x="0" y="0" font-size="29" text-anchor="start">a</text>
<text class="sg" transform="translate(1276.35,931.70) scale(0.95,1)" x="0" y="0" font-size="29" text-anchor="start">a</text>
<text class="sg" transform="translate(1395.83,809.50) scale(0.95,1)" x="0" y="0" font-size="29" text-anchor="start">b</text>
<text class="sg" transform="translate(1451.49,973.00) scale(0.95,1)" x="0" y="0" font-size="29" text-anchor="start">c</text>
<text class="pl" transform="translate(846.70,687.40) scale(0.94,1)" x="0" y="0" font-size="30" text-anchor="middle">D</text>
<g class="xlab">
<text transform="translate(889.19,1209.30) scale(0.9,1)" x="0.00" y="0" font-size="30">M</text>
<text transform="translate(915.37,1209.30) scale(0.88,1)" x="-8.33 0" y="0" font-size="30"> 0</text>
</g>
<g class="xlab">
<text transform="translate(1050.09,1209.30) scale(0.9,1)" x="0.00 26.44" y="0" font-size="30">NM</text>
<text transform="translate(1098.67,1209.30) scale(0.88,1)" x="-8.33 0" y="0" font-size="30"> 0</text>
</g>
<g class="xlab">
<text transform="translate(1236.59,1209.30) scale(0.9,1)" x="0.00" y="0" font-size="30">M</text>
<text transform="translate(1262.99,1209.30) scale(0.88,1)" x="-8.33 0" y="0" font-size="30"> 4</text>
</g>
<g class="xlab">
<text transform="translate(1397.99,1209.30) scale(0.9,1)" x="0.00 26.33" y="0" font-size="30">NM</text>
<text transform="translate(1447.39,1209.30) scale(0.88,1)" x="-8.33 0" y="0" font-size="30"> 4</text>
</g>
<rect x="1200.40" y="611.50" width="58.60" height="30.50" rx="1.5" fill="#fff" stroke="#000" stroke-width="2.0"/>
<rect x="1359.20" y="611.50" width="58.70" height="30.50" rx="1.5" fill="#c0c0c0" stroke="#000" stroke-width="2.0"/>
<text class="lg" transform="translate(1263.68,634.00) scale(1.12,1)" x="0" y="0" font-size="22" letter-spacing="0.528">Leaves</text>
<text class="lg" transform="translate(1422.68,634.00) scale(1.12,1)" x="0" y="0" font-size="22" letter-spacing="0.858">Roots</text>
<g class="ytitle">
<text transform="translate(1619.30,1098.20) rotate(-90)" x="-1.59" y="0" font-size="33" textLength="70.38" lengthAdjust="spacingAndGlyphs">GDH</text>
<text transform="translate(1619.30,1016.20) rotate(-90)" x="-1.30" y="0" font-size="33" textLength="93.76" lengthAdjust="spacingAndGlyphs">activity</text>
<text transform="translate(1619.30,910.00) rotate(-90)" x="-2.00" y="0" font-size="33" textLength="80.76" lengthAdjust="spacingAndGlyphs">(nmol</text>
<text transform="translate(1619.30,821.60) rotate(-90)" x="-2.12" y="0" font-size="33" textLength="51.39" lengthAdjust="spacingAndGlyphs">min</text>
<text transform="translate(1600.80,772.50) rotate(-90)" x="-0.81" y="0" font-size="18.5" textLength="16.20" lengthAdjust="spacingAndGlyphs">-1</text>
<text transform="translate(1619.30,744.90) rotate(-90)" x="-1.41" y="0" font-size="33" textLength="18.67" lengthAdjust="spacingAndGlyphs">g</text>
<text transform="translate(1600.80,728.50) rotate(-90)" x="-0.80" y="0" font-size="18.5" textLength="16.09" lengthAdjust="spacingAndGlyphs">-1</text>
<text transform="translate(1619.30,701.60) rotate(-90)" x="-2.65" y="0" font-size="33" textLength="61.06" lengthAdjust="spacingAndGlyphs">FW)</text>
</g>
</g>
<g id="panel-E">
<rect x="149.10" y="1307.90" width="48.70" height="485.10" fill="#fff" stroke="#000" stroke-width="2.3"/>
<rect x="202.60" y="1491.90" width="49.70" height="301.10" fill="#c0c0c0" stroke="#000" stroke-width="2.3"/>
<rect x="323.10" y="1448.10" width="49.50" height="344.90" fill="#fff" stroke="#000" stroke-width="2.3"/>
<rect x="377.20" y="1512.30" width="49.40" height="280.70" fill="#c0c0c0" stroke="#000" stroke-width="2.3"/>
<rect x="494.60" y="1360.20" width="50.40" height="432.80" fill="#fff" stroke="#000" stroke-width="2.3"/>
<rect x="549.70" y="1500.80" width="50.90" height="292.20" fill="#c0c0c0" stroke="#000" stroke-width="2.3"/>
<rect x="669.40" y="1496.20" width="49.50" height="296.80" fill="#fff" stroke="#000" stroke-width="2.3"/>
<rect x="724.70" y="1516.90" width="48.50" height="276.10" fill="#c0c0c0" stroke="#000" stroke-width="2.3"/>
<line x1="172.60" y1="1303.10" x2="172.60" y2="1314.90" stroke="#000" stroke-width="2.3"/>
<line x1="167.90" y1="1303.10" x2="177.30" y2="1303.10" stroke="#000" stroke-width="2.3"/>
<line x1="167.90" y1="1314.90" x2="177.30" y2="1314.90" stroke="#000" stroke-width="2.3"/>
<line x1="228.00" y1="1487.30" x2="228.00" y2="1494.50" stroke="#000" stroke-width="2.3"/>
<line x1="223.30" y1="1487.30" x2="232.70" y2="1487.30" stroke="#000" stroke-width="2.3"/>
<line x1="223.30" y1="1494.50" x2="232.70" y2="1494.50" stroke="#000" stroke-width="2.3"/>
<line x1="346.60" y1="1443.50" x2="346.60" y2="1455.50" stroke="#000" stroke-width="2.3"/>
<line x1="341.90" y1="1443.50" x2="351.30" y2="1443.50" stroke="#000" stroke-width="2.3"/>
<line x1="341.90" y1="1455.50" x2="351.30" y2="1455.50" stroke="#000" stroke-width="2.3"/>
<rect x="396.20" y="1509.50" width="9.60" height="5.20" rx="1.2" fill="#000"/>
<line x1="520.00" y1="1355.50" x2="520.00" y2="1363.20" stroke="#000" stroke-width="2.3"/>
<line x1="515.30" y1="1355.50" x2="524.70" y2="1355.50" stroke="#000" stroke-width="2.3"/>
<line x1="515.30" y1="1363.20" x2="524.70" y2="1363.20" stroke="#000" stroke-width="2.3"/>
<rect x="570.20" y="1497.70" width="9.60" height="5.40" rx="1.2" fill="#000"/>
<line x1="694.10" y1="1491.40" x2="694.10" y2="1503.40" stroke="#000" stroke-width="2.3"/>
<line x1="689.40" y1="1491.40" x2="698.80" y2="1491.40" stroke="#000" stroke-width="2.3"/>
<line x1="689.40" y1="1503.40" x2="698.80" y2="1503.40" stroke="#000" stroke-width="2.3"/>
<line x1="748.40" y1="1514.80" x2="748.40" y2="1521.70" stroke="#000" stroke-width="2.3"/>
<line x1="743.70" y1="1514.80" x2="753.10" y2="1514.80" stroke="#000" stroke-width="2.3"/>
<line x1="743.70" y1="1521.70" x2="753.10" y2="1521.70" stroke="#000" stroke-width="2.3"/>
<line x1="113.40" y1="1265.40" x2="808.80" y2="1265.40" stroke="#000" stroke-width="2.4"/>
<line x1="114.70" y1="1265.40" x2="114.70" y2="1798.80" stroke="#000" stroke-width="2.6"/>
<line x1="807.50" y1="1265.40" x2="807.50" y2="1798.80" stroke="#000" stroke-width="2.6"/>
<line x1="113.40" y1="1793.00" x2="808.80" y2="1793.00" stroke="#000" stroke-width="2.4"/>
<line x1="287.90" y1="1793.00" x2="287.90" y2="1798.80" stroke="#000" stroke-width="2.4"/>
<line x1="461.10" y1="1793.00" x2="461.10" y2="1798.80" stroke="#000" stroke-width="2.4"/>
<line x1="634.30" y1="1793.00" x2="634.30" y2="1798.80" stroke="#000" stroke-width="2.4"/>
<line x1="114.70" y1="1318.45" x2="118.00" y2="1318.45" stroke="#000" stroke-width="2.4"/>
<g clip-path="url(#clipE)">
<text class="tk" transform="translate(102.75,1273.80) scale(0.955,1)" x="0" y="0" font-size="30" text-anchor="end" letter-spacing="1.0">170</text>
</g>
<line x1="114.70" y1="1371.50" x2="122.50" y2="1371.50" stroke="#000" stroke-width="2.4"/>
<line x1="114.70" y1="1424.45" x2="118.00" y2="1424.45" stroke="#000" stroke-width="2.4"/>
<text class="tk" transform="translate(102.75,1379.90) scale(0.955,1)" x="0" y="0" font-size="30" text-anchor="end" letter-spacing="1.0">136</text>
<line x1="114.70" y1="1477.40" x2="122.50" y2="1477.40" stroke="#000" stroke-width="2.4"/>
<line x1="114.70" y1="1529.90" x2="118.00" y2="1529.90" stroke="#000" stroke-width="2.4"/>
<text class="tk" transform="translate(102.75,1485.80) scale(0.955,1)" x="0" y="0" font-size="30" text-anchor="end" letter-spacing="1.0">102</text>
<line x1="114.70" y1="1582.40" x2="122.50" y2="1582.40" stroke="#000" stroke-width="2.4"/>
<line x1="114.70" y1="1635.80" x2="118.00" y2="1635.80" stroke="#000" stroke-width="2.4"/>
<text class="tk" transform="translate(102.75,1590.80) scale(0.955,1)" x="0" y="0" font-size="30" text-anchor="end" letter-spacing="1.0">68</text>
<line x1="114.70" y1="1689.20" x2="122.50" y2="1689.20" stroke="#000" stroke-width="2.4"/>
<line x1="114.70" y1="1741.10" x2="118.00" y2="1741.10" stroke="#000" stroke-width="2.4"/>
<text class="tk" transform="translate(102.75,1697.60) scale(0.955,1)" x="0" y="0" font-size="30" text-anchor="end" letter-spacing="1.0">34</text>
<text class="tk" transform="translate(102.75,1801.40) scale(0.955,1)" x="0" y="0" font-size="30" text-anchor="end" letter-spacing="1.0">0</text>
<text class="sg" transform="translate(164.15,1294.50) scale(0.95,1)" x="0" y="0" font-size="29" text-anchor="start">a</text>
<text class="sg" transform="translate(221.65,1480.20) scale(0.95,1)" x="0" y="0" font-size="29" text-anchor="start">a</text>
<text class="sg" transform="translate(339.89,1435.10) scale(0.95,1)" x="0" y="0" font-size="29" text-anchor="start">c</text>
<text class="sg" transform="translate(392.63,1499.30) scale(0.95,1)" x="0" y="0" font-size="29" text-anchor="start">b</text>
<text class="sg" transform="translate(512.03,1343.80) scale(0.95,1)" x="0" y="0" font-size="29" text-anchor="start">b</text>
<text class="sg" transform="translate(569.45,1489.10) scale(0.95,1)" x="0" y="0" font-size="29" text-anchor="start">a</text>
<text class="sg" transform="translate(685.55,1482.20) scale(0.95,1)" x="0" y="0" font-size="29" text-anchor="start">d</text>
<text class="sg" transform="translate(740.43,1504.40) scale(0.95,1)" x="0" y="0" font-size="29" text-anchor="start">b</text>
<text class="pl" transform="translate(782.50,1301.00) scale(0.94,1)" x="0" y="0" font-size="30" text-anchor="middle">C</text>
<g class="xlab">
<text transform="translate(177.99,1828.20) scale(0.9,1)" x="0.00" y="0" font-size="30">M</text>
<text transform="translate(204.07,1828.20) scale(0.88,1)" x="-8.33 0" y="0" font-size="30"> 0</text>
</g>
<g class="xlab">
<text transform="translate(341.49,1828.20) scale(0.9,1)" x="0.00 21.22" y="0" font-size="30">NM</text>
<text transform="translate(388.27,1828.20) scale(0.88,1)" x="-8.33 0" y="0" font-size="30"> 0</text>
</g>
<g class="xlab">
<text transform="translate(525.19,1828.20) scale(0.9,1)" x="0.00" y="0" font-size="30">M</text>
<text transform="translate(551.39,1828.20) scale(0.88,1)" x="-8.33 0" y="0" font-size="30"> 4</text>
</g>
<g class="xlab">
<text transform="translate(686.59,1828.20) scale(0.9,1)" x="0.00 26.67" y="0" font-size="30">NM</text>
<text transform="translate(734.89,1828.20) scale(0.88,1)" x="-8.33 0" y="0" font-size="30"> 4</text>
</g>
<g class="ytitle">
<text transform="translate(38.00,1762.00) rotate(-90)" x="-1.54" y="0" font-size="33" textLength="110.44" lengthAdjust="spacingAndGlyphs">GOGAT</text>
<text transform="translate(38.00,1637.40) rotate(-90)" x="-1.30" y="0" font-size="33" textLength="93.86" lengthAdjust="spacingAndGlyphs">activity</text>
<text transform="translate(38.00,1532.50) rotate(-90)" x="-1.98" y="0" font-size="33" textLength="80.03" lengthAdjust="spacingAndGlyphs">(nmol</text>
<text transform="translate(38.00,1445.40) rotate(-90)" x="-2.15" y="0" font-size="33" textLength="52.15" lengthAdjust="spacingAndGlyphs">min</text>
<text transform="translate(19.50,1395.60) rotate(-90)" x="-0.81" y="0" font-size="18.5" textLength="16.20" lengthAdjust="spacingAndGlyphs">-1</text>
<text transform="translate(38.00,1368.70) rotate(-90)" x="-1.41" y="0" font-size="33" textLength="18.67" lengthAdjust="spacingAndGlyphs">g</text>
<text transform="translate(19.50,1352.30) rotate(-90)" x="-0.80" y="0" font-size="18.5" textLength="16.09" lengthAdjust="spacingAndGlyphs">-1</text>
<text transform="translate(38.00,1324.80) rotate(-90)" x="-2.75" y="0" font-size="33" textLength="63.22" lengthAdjust="spacingAndGlyphs">FW)</text>
</g>
</g>
</svg>
</body>
</html>
